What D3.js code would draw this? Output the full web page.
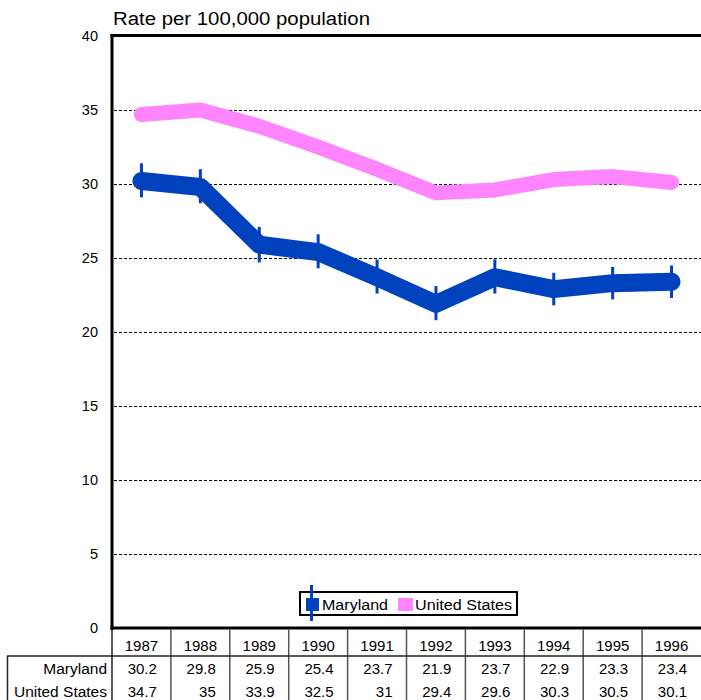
<!DOCTYPE html>
<html>
<head>
<meta charset="utf-8">
<script src="https://cdn.jsdelivr.net/npm/d3@7"></script>
<style>
  html, body { margin: 0; padding: 0; background: #fff; }
  svg { display: block; font-family: "Liberation Sans", Arial, sans-serif; }
</style>
</head>
<body>
<svg id="chart" width="701" height="700"></svg>
<script>
const years = ["1987","1988","1989","1990","1991","1992","1993","1994","1995","1996"];
const maryland = [30.2, 29.8, 25.9, 25.4, 23.7, 21.9, 23.7, 22.9, 23.3, 23.4];
const unitedStates = [34.7, 35, 33.9, 32.5, 31, 29.4, 29.6, 30.3, 30.5, 30.1];
const marylandLow = [29.1, 28.7, 24.7, 24.3, 22.6, 20.8, 22.6, 21.8, 22.2, 22.3];
const marylandHigh = [31.4, 31.0, 27.1, 26.6, 24.9, 23.1, 24.9, 24.0, 24.4, 24.5];
const yTicks = [0, 5, 10, 15, 20, 25, 30, 35, 40];
const seriesNames = ["Maryland", "United States"];
const tableValues = [
  ["30.2","29.8","25.9","25.4","23.7","21.9","23.7","22.9","23.3","23.4"],
  ["34.7","35","33.9","32.5","31","29.4","29.6","30.3","30.5","30.1"]
];
const colors = ["#0041BE", "#FF85FF"];

const svg = d3.select("#chart");
const mLeft = 112, mRight = 701, mTop = 36, mBottom = 628;

const x = d3.scaleBand().domain(years).range([mLeft, mRight]).padding(0);
const y = d3.scaleLinear().domain([0, 40]).range([mBottom, mTop]);
const cx = d => x(d) + x.bandwidth() / 2;

// Title
svg.append("text")
  .attr("x", 113).attr("y", 25)
  .attr("font-size", 18)
  .attr("textLength", 257).attr("lengthAdjust", "spacingAndGlyphs")
  .text("Rate per 100,000 population");

// Gridlines
svg.append("g").selectAll("line")
  .data(yTicks.filter(t => t > 0 && t < 40))
  .join("line")
  .attr("x1", mLeft + 2).attr("x2", mRight)
  .attr("y1", d => Math.round(y(d)) + 0.5).attr("y2", d => Math.round(y(d)) + 0.5)
  .attr("stroke", "#000").attr("stroke-width", 1)
  .attr("stroke-dasharray", "3,2");

// Y axis labels
const yAxis = d3.axisLeft(y).tickValues(yTicks).tickSize(0).tickPadding(0).tickFormat(d3.format("d"));
const gy = svg.append("g").attr("transform", `translate(${mLeft - 14},0)`).call(yAxis);
gy.select(".domain").remove();
gy.selectAll("text").attr("font-size", 14.5).attr("fill", "#000")
  .attr("font-family", "'Liberation Sans', Arial, sans-serif");

// Frame
svg.append("line").attr("x1", mLeft).attr("x2", mLeft).attr("y1", mTop - 2).attr("y2", mBottom + 2)
  .attr("stroke", "#000").attr("stroke-width", 3);
svg.append("line").attr("x1", mLeft - 1.5).attr("x2", mRight).attr("y1", mTop - 0.5).attr("y2", mTop - 0.5)
  .attr("stroke", "#000").attr("stroke-width", 3);
svg.append("line").attr("x1", mLeft - 1.5).attr("x2", mRight).attr("y1", mBottom).attr("y2", mBottom)
  .attr("stroke", "#000").attr("stroke-width", 3);

// Error bars
svg.append("g").selectAll("line")
  .data(years)
  .join("line")
  .attr("x1", d => cx(d)).attr("x2", d => cx(d))
  .attr("y1", (d, i) => y(marylandHigh[i])).attr("y2", (d, i) => y(marylandLow[i]))
  .attr("stroke", colors[0]).attr("stroke-width", 3);

const line = d3.line().x((d, i) => cx(years[i])).y(d => y(d));

svg.append("path").datum(maryland)
  .attr("d", line).attr("fill", "none")
  .attr("stroke", colors[0]).attr("stroke-width", 18)
  .attr("stroke-linecap", "round").attr("stroke-linejoin", "round");

svg.append("path").datum(unitedStates)
  .attr("d", line).attr("fill", "none")
  .attr("stroke", colors[1]).attr("stroke-width", 15)
  .attr("stroke-linecap", "round").attr("stroke-linejoin", "round");

// Legend
const lg = svg.append("g");
lg.append("rect").attr("x", 300).attr("y", 592).attr("width", 217).attr("height", 23)
  .attr("fill", "#fff").attr("stroke", "#000").attr("stroke-width", 2);
lg.append("line").attr("x1", 311.5).attr("x2", 311.5).attr("y1", 585).attr("y2", 621)
  .attr("stroke", colors[0]).attr("stroke-width", 3);
lg.append("rect").attr("x", 306).attr("y", 598).attr("width", 13).attr("height", 13).attr("fill", colors[0]);
lg.append("text").attr("x", 322).attr("y", 609.5).attr("font-size", 15.5).attr("textLength", 66)
  .attr("lengthAdjust", "spacingAndGlyphs").text(seriesNames[0]);
lg.append("rect").attr("x", 398).attr("y", 598).attr("width", 15).attr("height", 13).attr("fill", colors[1]);
lg.append("text").attr("x", 415).attr("y", 609.5).attr("font-size", 15.5).attr("textLength", 97)
  .attr("lengthAdjust", "spacingAndGlyphs").text(seriesNames[1]);

// Data table
const tg = svg.append("g");
const lineColor = "#555";
years.forEach((yr, i) => {
  if (i > 0) {
    tg.append("line").attr("x1", x(yr)).attr("x2", x(yr)).attr("y1", mBottom + 1).attr("y2", 700)
      .attr("stroke", lineColor).attr("stroke-width", 1.5);
  }
});
tg.append("line").attr("x1", mLeft).attr("x2", mLeft).attr("y1", mBottom).attr("y2", 700)
  .attr("stroke", "#222").attr("stroke-width", 1.5);
tg.append("line").attr("x1", 7).attr("x2", mRight).attr("y1", 656).attr("y2", 656)
  .attr("stroke", "#222").attr("stroke-width", 1.5);
tg.append("line").attr("x1", 7.5).attr("x2", 7.5).attr("y1", 656).attr("y2", 700)
  .attr("stroke", "#222").attr("stroke-width", 1.5);

tg.selectAll("text.yr").data(years).join("text")
  .attr("class", "yr")
  .attr("x", d => cx(d)).attr("y", 651)
  .attr("text-anchor", "middle").attr("font-size", 15)
  .text(d => d);

const rowY = [674, 697];
seriesNames.forEach((name, r) => {
  tg.append("text").attr("x", 107).attr("y", rowY[r]).attr("text-anchor", "end")
    .attr("font-size", 15.5).text(name);
  tg.selectAll("text.v" + r).data(tableValues[r]).join("text")
    .attr("class", "v" + r)
    .attr("x", (d, i) => x(years[i]) + x.bandwidth() - 14)
    .attr("y", rowY[r]).attr("text-anchor", "end").attr("font-size", 15)
    .text(d => d);
});
</script>
</body>
</html>
